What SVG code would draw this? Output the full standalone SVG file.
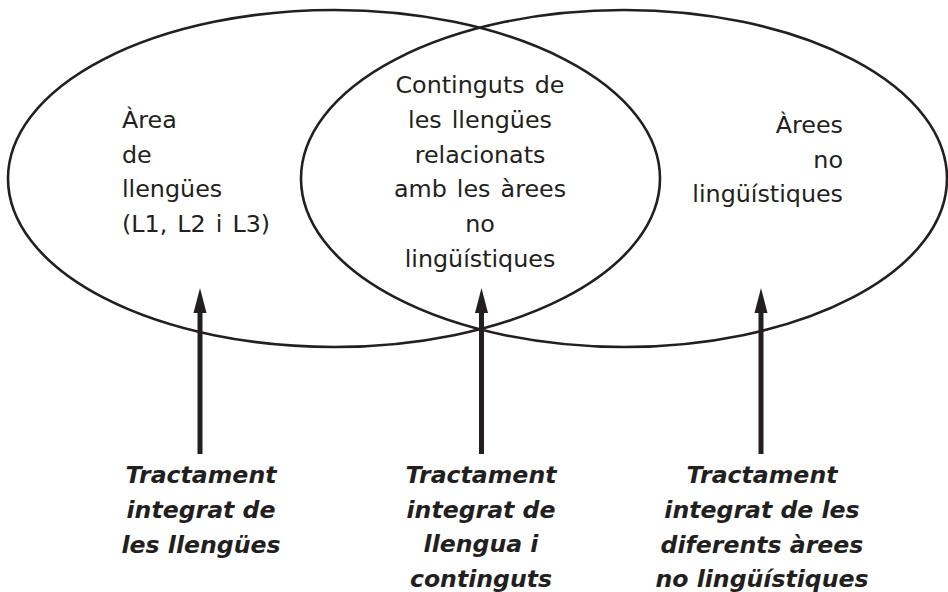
<svg xmlns="http://www.w3.org/2000/svg" width="948" height="592" viewBox="0 0 948 592">
<defs>
<style>
.ell{fill:none;stroke:#231f20;stroke-width:2.6}
.shaft{stroke:#231f20;stroke-width:5}
.head{fill:#231f20}
.t{font-family:"DejaVu Sans",Verdana,sans-serif;font-size:23.8px;fill:#231f20;word-spacing:2.5px}
.b{font-family:"DejaVu Sans",Verdana,sans-serif;font-size:23.6px;font-weight:bold;font-style:italic;fill:#231f20;text-anchor:middle}
</style>
</defs>
<rect width="948" height="592" fill="#ffffff"/>
<g id="left-area">
<ellipse class="ell" cx="334" cy="178.5" rx="326" ry="168.5"/>
<text class="t" x="122"><tspan x="122" y="128">Àrea</tspan><tspan x="122" y="163">de</tspan><tspan x="122" y="197">llengües</tspan><tspan x="122" y="232">(L1, L2 i L3)</tspan></text>
</g>
<g id="right-area">
<ellipse class="ell" cx="624" cy="178.5" rx="323" ry="168.5"/>
<text class="t" text-anchor="end"><tspan x="843" y="133">Àrees</tspan><tspan x="843" y="168">no</tspan><tspan x="843" y="202">lingüístiques</tspan></text>
</g>
<g id="intersection">
<text class="t" text-anchor="middle"><tspan x="480" y="93">Continguts de</tspan><tspan x="480" y="128">les llengües</tspan><tspan x="480" y="163">relacionats</tspan><tspan x="480" y="197">amb les àrees</tspan><tspan x="480" y="232">no</tspan><tspan x="480" y="267">lingüístiques</tspan></text>
</g>
<g id="connectors">
<line class="shaft" x1="200" y1="454" x2="200" y2="305"/>
<polygon class="head" points="200,288 206.5,313 193.5,313"/>
<line class="shaft" x1="481.5" y1="454" x2="481.5" y2="305"/>
<polygon class="head" points="481.5,288 488,313 475,313"/>
<line class="shaft" x1="761" y1="454" x2="761" y2="305"/>
<polygon class="head" points="761,288 767.5,313 754.5,313"/>
</g>
<g id="label-left">
<text class="b"><tspan x="201" y="483">Tractament</tspan><tspan x="201" y="518">integrat de</tspan><tspan x="201" y="553">les llengües</tspan></text>
</g>
<g id="label-middle">
<text class="b"><tspan x="481" y="483">Tractament</tspan><tspan x="481" y="518">integrat de</tspan><tspan x="481" y="552">llengua i</tspan><tspan x="481" y="587">continguts</tspan></text>
</g>
<g id="label-right">
<text class="b"><tspan x="762" y="483">Tractament</tspan><tspan x="762" y="518">integrat de les</tspan><tspan x="762" y="553">diferents àrees</tspan><tspan x="762" y="587">no lingüístiques</tspan></text>
</g>
</svg>
